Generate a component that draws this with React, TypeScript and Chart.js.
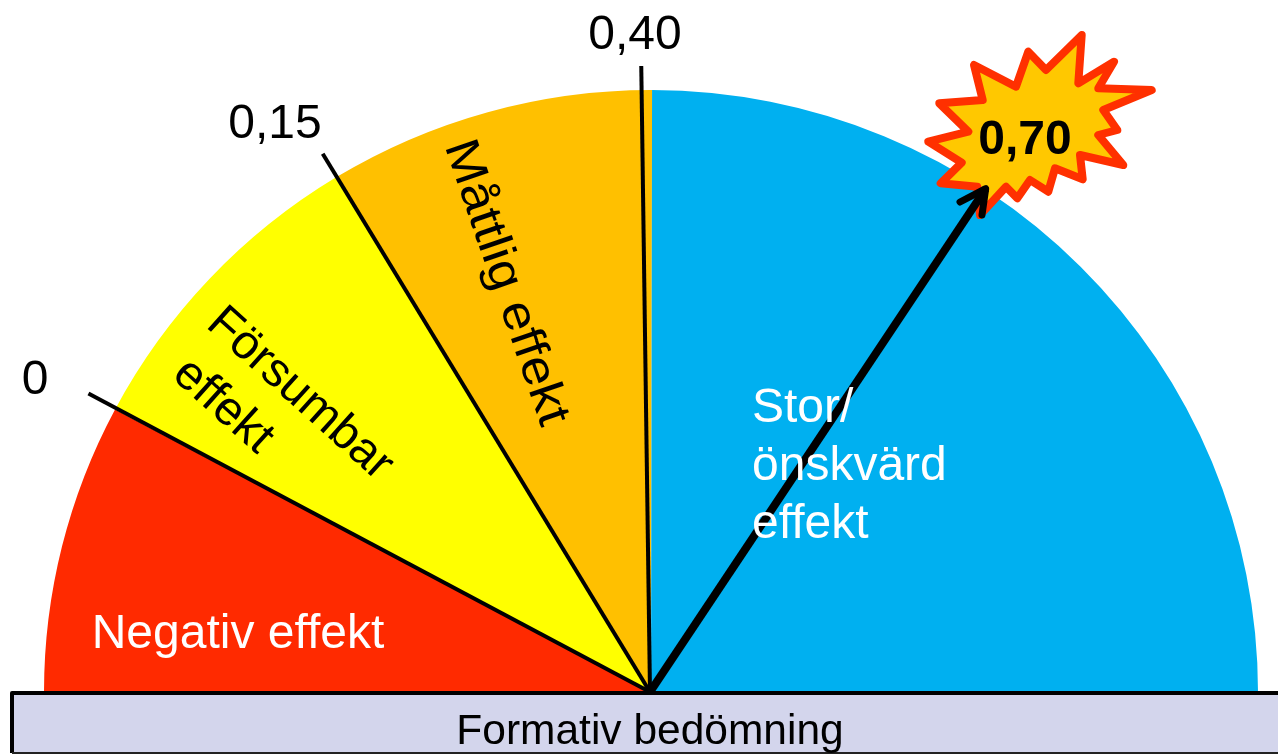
import React, { useEffect, useRef } from "react";
import { Chart, registerables } from "chart.js";

Chart.register(...registerables);

// Scale segments, in degrees of the half circle, left to right
const categories = ["Negativ effekt", "Försumbar effekt", "Måttlig effekt", "Stor/önskvärd effekt"];
const segmentSpans = [28, 30.7, 31.4, 89.9];
const segmentColors = ["#ff2a00", "#ffff00", "#ffc000", "#00b0f0"];
const tickLabels = ["0", "0,15", "0,40"];
const tickPositions = [28, 58.7, 89.2];
const resultLabel = "0,70";
const resultPosition = 123.7;
const axisTitle = "Formativ bedömning";

const FONT = '"Liberation Sans", Arial, sans-serif';

// Burst outline, offsets from the burst centre
const burst: [number, number][] = [
  [41.7, -100], [6, -65], [-11.7, -83.3], [-24, -48.3], [-66, -70], [-57.3, -35], [-100.7, -31.7],
  [-71.7, -3.3], [-111.7, 6.7], [-78.3, 27.7], [-99.3, 48.3], [-62.7, 51.7], [-60, 80], [-34, 51.7],
  [-22.7, 63.3], [-10, 45], [8.3, 56.7], [15, 33.3], [42.7, 44.3], [40, 20], [83.3, 30], [58.3, 0],
  [77.3, -5], [63.3, -25], [111.7, -45], [58.3, -46.7], [74, -73.3], [38.3, -51.7],
];
const BURST_X = 1040;
const BURST_Y = 135;

const gaugePlugin = {
  id: "gauge",
  beforeDatasetsDraw(chart: any) {
    const arc = chart.getDatasetMeta(0).data[0];
    const ctx = chart.ctx;
    ctx.save();
    ctx.translate(arc.x, arc.y);
    ctx.scale(1, 602 / 607);
    ctx.translate(-arc.x, -arc.y);
  },
  afterDatasetsDraw(chart: any) {
    const ctx = chart.ctx;
    ctx.restore();
    const arc = chart.getDatasetMeta(0).data[0];
    const cx = arc.x - 1;
    const cy = arc.y;
    const at = (deg: number, r: number): [number, number] => {
      const a = Math.PI - (deg * Math.PI) / 180;
      return [cx + r * Math.cos(a), cy - r * Math.sin(a)];
    };

    // Burst
    ctx.beginPath();
    burst.forEach(([dx, dy], i) => {
      const x = BURST_X + dx;
      const y = BURST_Y + dy;
      if (i === 0) ctx.moveTo(x, y);
      else ctx.lineTo(x, y);
    });
    ctx.closePath();
    ctx.fillStyle = "#ffc800";
    ctx.fill();
    ctx.strokeStyle = "#ff3000";
    ctx.lineWidth = 8;
    ctx.lineJoin = "round";
    ctx.stroke();

    // Tick lines
    const lengths = [636, 630, 626];
    ctx.strokeStyle = "#000";
    ctx.lineWidth = 4;
    ctx.lineCap = "butt";
    tickPositions.forEach((deg, i) => {
      const [x, y] = at(deg, lengths[i]);
      ctx.beginPath();
      ctx.moveTo(cx, cy);
      ctx.lineTo(x, y);
      ctx.stroke();
    });

    // Arrow
    const [ax, ay] = at(resultPosition, 605);
    ctx.lineWidth = 8;
    ctx.beginPath();
    ctx.moveTo(cx, cy);
    ctx.lineTo(ax, ay);
    ctx.stroke();
    ctx.lineCap = "round";
    ctx.lineWidth = 7;
    ctx.beginPath();
    ctx.moveTo(960, 202);
    ctx.lineTo(ax, ay);
    ctx.lineTo(982, 215);
    ctx.stroke();
    ctx.lineCap = "butt";

    // Base bar
    ctx.fillStyle = "#d3d5ec";
    ctx.fillRect(12, 693, 1266, 60);
    ctx.strokeStyle = "#000";
    ctx.lineWidth = 4;
    ctx.beginPath();
    ctx.moveTo(12, 753);
    ctx.lineTo(12, 693);
    ctx.lineTo(1278, 693);
    ctx.stroke();
    ctx.lineWidth = 2;
    ctx.strokeStyle = "#222";
    ctx.beginPath();
    ctx.moveTo(12, 753);
    ctx.lineTo(1278, 753);
    ctx.stroke();

    // Texts
    const text = (
      s: string, x: number, y: number, size: number, color: string,
      rot = 0, align: CanvasTextAlign = "center", bold = false, stretch = 1,
    ) => {
      ctx.save();
      ctx.translate(x, y);
      ctx.rotate((rot * Math.PI) / 180);
      ctx.scale(stretch, 1);
      ctx.font = `${bold ? "bold " : ""}${size}px ${FONT}`;
      ctx.fillStyle = color;
      ctx.textAlign = align;
      ctx.textBaseline = "alphabetic";
      ctx.fillText(s, 0, 0);
      ctx.restore();
    };

    text(tickLabels[0], 35, 394, 48, "#000");
    text(tickLabels[1], 275, 138, 48, "#000");
    text(tickLabels[2], 635, 49, 48, "#000");
    text(resultLabel, 1025, 154, 48, "#000", 0, "center", true);
    text(axisTitle, 650, 744, 42.5, "#000");

    text(categories[0], 238, 648, 48, "#fff");
    const [f1, f2] = categories[1].split(" ");
    text(f1, 291, 404, 48, "#000", 42);
    text(f2, 214, 416, 48, "#000", 42);
    text(categories[2], 493, 287, 48, "#000", 71, "center", false, 1.1);
    const [s1, s2] = categories[3].split("/");
    text(s1 + "/", 752, 422, 48, "#fff", 0, "left");
    const [s3, s4] = s2.split(" ");
    text(s3, 752, 480, 48, "#fff", 0, "left");
    text(s4, 752, 538, 48, "#fff", 0, "left");
  },
};

export default function App() {
  const ref = useRef<HTMLCanvasElement>(null);
  useEffect(() => {
    document.body.style.margin = "0";
    document.body.style.background = "#fff";
    const chart = new Chart(ref.current!, {
      type: "doughnut",
      data: {
        labels: categories,
        datasets: [
          {
            data: segmentSpans,
            backgroundColor: segmentColors,
            borderWidth: 0,
          },
        ],
      },
      options: {
        animation: false,
        responsive: false,
        rotation: -90,
        circumference: 180,
        cutout: 0,
        layout: { padding: { left: 44, right: 20, top: 85, bottom: 62 } },
        plugins: { legend: { display: false }, tooltip: { enabled: false } },
      },
      plugins: [gaugePlugin],
    });
    return () => chart.destroy();
  }, []);
  return (
    <canvas
      ref={ref}
      width={1278}
      height={754}
      style={{ display: "block", position: "absolute", left: 0, top: 0, width: 1278, height: 754 }}
    />
  );
}
